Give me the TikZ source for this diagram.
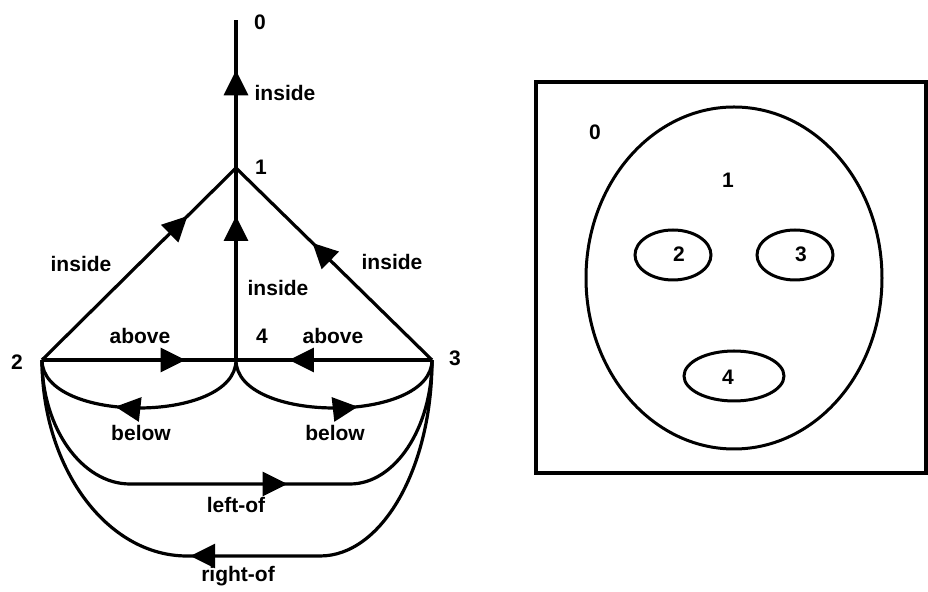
\documentclass[tikz,border=0pt]{standalone}
\usepackage{fontspec}
\setmainfont{Liberation Sans}
\usetikzlibrary{arrows.meta,decorations.markings}

\begin{document}
\begin{tikzpicture}[x=0.5pt,y=-0.5pt,line width=1.6pt,every node/.style={font=\fontsize{10.5}{12}\selectfont\bfseries,inner sep=0pt},flow/.style={postaction={decorate},decoration={markings,mark=at position #1 with {\arrow{Triangle[length=12.5pt,width=12pt]}}}},outline/.style={line width=1.5pt}]
\useasboundingbox (0,0) rectangle (928,592);
% relation graph
\coordinate (n0) at (236,20);
\coordinate (n1) at (236,168);
\coordinate (n2) at (42,360);
\coordinate (n3) at (432,360);
\coordinate (n4) at (236,360);
\node (lab0) at (260,22) {0};
\node (lab1) at (261,167) {1};
\node (lab2) at (17,362) {2};
\node (lab3) at (455,358) {3};
\node (lab4) at (262,336) {4};
\draw[flow=0.66] (n1) -- (n0);
\draw[flow=0.75] (n2) -- (n1);
\draw[flow=0.61] (n3) -- (n1);
\draw[flow=0.75] (n4) -- (n1);
\draw[flow=0.74] (n2) -- (n4);
\draw[flow=0.73] (n3) -- (n4);
\draw[flow=0.6] (n4) .. controls +(0,64) and +(0,64) .. (n2);
\draw[flow=0.6] (n4) .. controls +(0,64) and +(0,64) .. (n3);
\draw[flow=0.59] (n2) .. controls +(0,68) and +(-48,0) .. (130,484) -- (350,484) .. controls +(45,0) and +(0,68) .. (n3);
\draw[flow=0.58] (n3) .. controls +(0,108) and +(62,0) .. (320,556) -- (187,556) .. controls +(-80,0) and +(0,108) .. (n2);
\node (ins10) at (285,93) {inside};
\node (ins21) at (81,264) {inside};
\node (ins41) at (278,288) {inside};
\node (ins31) at (392,262) {inside};
\node (abv24) at (140,336) {above};
\node (abv34) at (333,336) {above};
\node (blw42) at (141,433) {below};
\node (blw43) at (335,433) {below};
\node (lft23) at (236,505) {left-of};
\node (rgt32) at (238,576) {right-of};
% region picture
\draw[line width=2pt] (536,82) rectangle (926,473);
\draw[outline] (734,278) ellipse [x radius=148,y radius=171];
\draw[outline] (673,255) ellipse [x radius=38,y radius=25];
\draw[outline] (795,255) ellipse [x radius=38,y radius=25];
\draw[outline] (734,376) ellipse [x radius=50,y radius=25];
\node (reg0) at (595,132) {0};
\node (reg1) at (728,180) {1};
\node (reg2) at (679,254) {2};
\node (reg3) at (801,254) {3};
\node (reg4) at (728,377) {4};
\end{tikzpicture}
\end{document}
